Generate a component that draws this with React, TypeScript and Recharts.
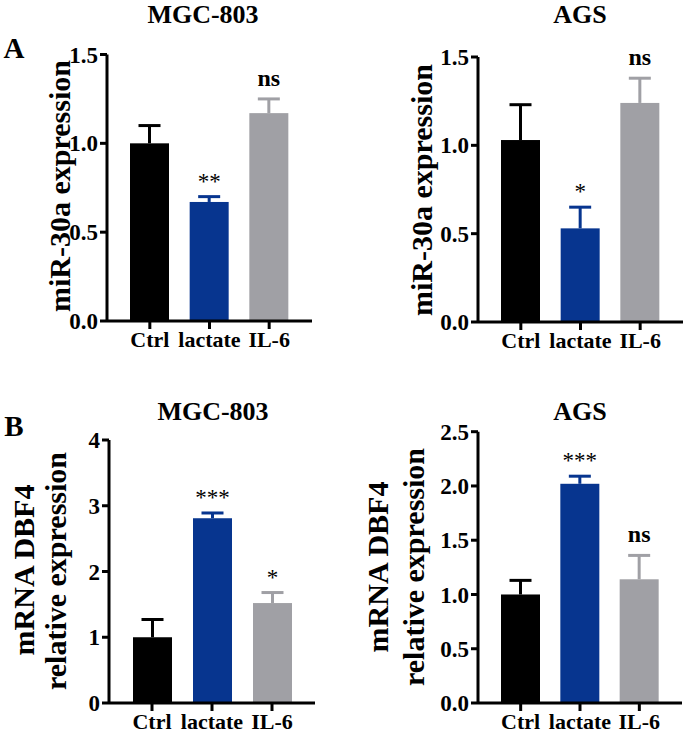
import React from "react";
import { BarChart, Bar, XAxis, YAxis } from "recharts";

const FONT = '"Liberation Serif", "Times New Roman", serif';

const groups = ["Ctrl", "lactate", "IL-6"];
const barColors = ["#000000", "#07358f", "#a0a0a5"];

// A: miR-30a
const mgcMirMean = [1.0, 0.67, 1.17];
const mgcMirErr = [0.1, 0.03, 0.08];
const mgcMirSig = ["", "**", "ns"];

const agsMirMean = [1.03, 0.53, 1.24];
const agsMirErr = [0.2, 0.12, 0.14];
const agsMirSig = ["", "*", "ns"];

// B: DBF4 mRNA
const mgcDbfMean = [1.0, 2.81, 1.52];
const mgcDbfErr = [0.27, 0.08, 0.16];
const mgcDbfSig = ["", "***", "*"];

const agsDbfMean = [1.0, 2.02, 1.14];
const agsDbfErr = [0.13, 0.07, 0.22];
const agsDbfSig = ["", "***", "ns"];

const mirTicks = [0, 0.5, 1.0, 1.5];
const mgcDbfTicks = [0, 1, 2, 3, 4];
const agsDbfTicks = [0, 0.5, 1.0, 1.5, 2.0, 2.5];

const rows = (mean: number[], err: number[], sig: string[]) =>
  groups.map((name, i) => ({ name, value: mean[i], err: err[i], sig: sig[i] }));

const ErrShape = (props: any) => {
  const { x, y, width, height, index, payload } = props;
  const color = barColors[index];
  const perUnit = height / payload.value;
  const top = y - payload.err * perUnit;
  const cx = x + width / 2;
  const star = payload.sig.includes("*");
  return (
    <g>
      <rect x={x} y={y} width={width} height={height} fill={color} />
      <line x1={cx} x2={cx} y1={y} y2={top} stroke={color} strokeWidth={3} />
      <line x1={cx - 11} x2={cx + 11} y1={top} y2={top} stroke={color} strokeWidth={3} />
      {payload.sig && (
        <text
          x={cx}
          y={star ? top - 8 : top - 13}
          textAnchor="middle"
          fontFamily={FONT}
          fontSize={star ? 23 : 24}
          fontWeight={star ? 400 : 700}
          fill="#000"
        >
          {payload.sig}
        </text>
      )}
    </g>
  );
};

interface PanelProps {
  left: number;
  top: number;
  width: number;
  height: number;
  plot: [number, number, number, number]; // x0, x1, y0, y1 in page coords
  data: any[];
  ticks: number[];
  digits: number;
}

function Panel({ left, top, width, height, plot, data, ticks, digits }: PanelProps) {
  const yw = 60;
  const xh = 30;
  const margin = {
    top: plot[2] - top,
    left: plot[0] - left - yw,
    right: left + width - plot[1],
    bottom: top + height - plot[3] - xh,
  };
  const axisStyle = { stroke: "#000", strokeWidth: 3 };
  return (
    <div style={{ position: "absolute", left, top }}>
      <BarChart width={width} height={height} data={data} margin={margin} barSize={39}>
        <XAxis
          dataKey="name"
          height={xh}
          padding={{ left: 13, right: 13 }}
          axisLine={axisStyle}
          tickLine={axisStyle}
          tickSize={8}
          tickMargin={2}
          interval={0}
          tick={{ fill: "#000", fontSize: 22, fontWeight: 700, fontFamily: FONT }}
        />
        <YAxis
          width={yw}
          domain={[ticks[0], ticks[ticks.length - 1]]}
          ticks={ticks}
          interval={0}
          axisLine={axisStyle}
          tickLine={axisStyle}
          tickSize={7}
          tickMargin={2}
          tickFormatter={(v: number) => v.toFixed(digits)}
          tick={{ fill: "#000", fontSize: 23, fontWeight: 700, fontFamily: FONT }}
        />
        <Bar dataKey="value" shape={ErrShape} isAnimationActive={false} />
      </BarChart>
    </div>
  );
}

function Txt({ x, y, size, children, rotate = 0, weight = 700 }: any) {
  return (
    <div
      style={{
        position: "absolute",
        left: x,
        top: y,
        transform: `translate(-50%, -50%) rotate(${rotate}deg)`,
        fontFamily: FONT,
        fontSize: size,
        fontWeight: weight,
        lineHeight: 1,
        whiteSpace: "nowrap",
        color: "#000",
      }}
    >
      {children}
    </div>
  );
}

export default function App() {
  return (
    <div style={{ position: "absolute", left: 0, top: 0, width: 685, height: 738, background: "#fff", overflow: "hidden" }}>
      <Panel left={0} top={0} width={340} height={370} plot={[107, 312, 54.5, 321]} data={rows(mgcMirMean, mgcMirErr, mgcMirSig)} ticks={mirTicks} digits={1} />
      <Panel left={340} top={0} width={345} height={370} plot={[478, 683, 57, 322]} data={rows(agsMirMean, agsMirErr, agsMirSig)} ticks={mirTicks} digits={1} />
      <Panel left={0} top={370} width={340} height={368} plot={[109, 315, 440, 703]} data={rows(mgcDbfMean, mgcDbfErr, mgcDbfSig)} ticks={mgcDbfTicks} digits={0} />
      <Panel left={340} top={370} width={345} height={368} plot={[478, 682, 431.7, 703]} data={rows(agsDbfMean, agsDbfErr, agsDbfSig)} ticks={agsDbfTicks} digits={1} />

      <Txt x={203} y={15} size={26}>MGC-803</Txt>
      <Txt x={580} y={15} size={26}>AGS</Txt>
      <Txt x={213} y={412} size={26}>MGC-803</Txt>
      <Txt x={580} y={412} size={26}>AGS</Txt>

      <Txt x={14} y={48} size={29}>A</Txt>
      <Txt x={14} y={426} size={29}>B</Txt>

      <Txt x={60} y={186} size={30} rotate={-90}>miR-30a expression</Txt>
      <Txt x={422} y={190} size={30} rotate={-90}>miR-30a expression</Txt>

      <Txt x={24} y={570} size={30} rotate={-90}>mRNA DBF4</Txt>
      <Txt x={56} y={571} size={30} rotate={-90}>relative expression</Txt>
      <Txt x={378} y={567} size={30} rotate={-90}>mRNA DBF4</Txt>
      <Txt x={414} y={567} size={30} rotate={-90}>relative expression</Txt>
    </div>
  );
}
